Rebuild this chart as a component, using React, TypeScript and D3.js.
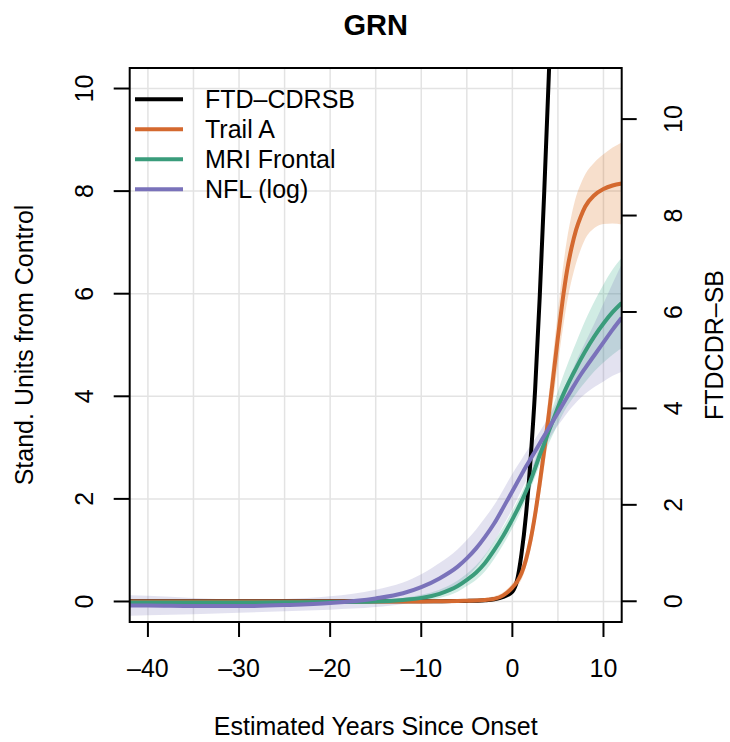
import React from "react";
import * as d3 from "d3";

const years = [-42, -40, -35, -30, -25, -20, -15, -12, -10, -8, -6, -5, -4, -3, -2, -1, 0, 0.5, 1, 1.5, 2, 2.5, 3, 3.5, 4, 4.5, 5, 5.5, 6, 6.5, 7, 7.5, 8, 9, 10, 11, 12];

// FTD-CDRSB (right axis units); null beyond the visible range
const ftdCdrsb: (number | null)[] = [0, 0, 0, 0, 0, 0, 0, 0, 0, 0, 0.005, 0.008, 0.012, 0.02, 0.04, 0.09, 0.2, 0.42, 0.98, 1.8, 2.95, 4.4, 6.3, 8.5, 10.9, 13.4, null, null, null, null, null, null, null, null, null, null, null];

const trailA = [0, 0, 0, 0, 0, 0, 0, 0, 0, 0.005, 0.01, 0.015, 0.02, 0.03, 0.05, 0.12, 0.27, 0.38, 0.55, 0.82, 1.2, 1.7, 2.3, 2.95, 3.65, 4.4, 5.15, 5.85, 6.45, 6.9, 7.25, 7.5, 7.7, 7.92, 8.04, 8.11, 8.15];
const trailABand = [0.03, 0.03, 0.03, 0.03, 0.03, 0.03, 0.03, 0.03, 0.03, 0.03, 0.03, 0.03, 0.03, 0.04, 0.05, 0.06, 0.08, 0.1, 0.12, 0.15, 0.18, 0.22, 0.27, 0.32, 0.38, 0.45, 0.52, 0.58, 0.62, 0.64, 0.65, 0.64, 0.63, 0.64, 0.68, 0.74, 0.8];

const mriFrontal = [-0.02, -0.02, -0.02, -0.02, -0.015, -0.01, 0.0, 0.03, 0.07, 0.15, 0.3, 0.42, 0.56, 0.75, 1.0, 1.28, 1.6, 1.77, 1.95, 2.15, 2.36, 2.6, 2.85, 3.08, 3.32, 3.55, 3.78, 4.0, 4.2, 4.38, 4.55, 4.72, 4.88, 5.17, 5.42, 5.64, 5.82];
const mriFrontalBand = [0.05, 0.05, 0.04, 0.03, 0.03, 0.03, 0.03, 0.04, 0.06, 0.08, 0.11, 0.12, 0.14, 0.16, 0.17, 0.17, 0.17, 0.17, 0.16, 0.16, 0.16, 0.17, 0.19, 0.21, 0.24, 0.28, 0.32, 0.36, 0.4, 0.45, 0.5, 0.55, 0.6, 0.68, 0.76, 0.83, 0.88];

const nflLog = [-0.08, -0.08, -0.09, -0.09, -0.07, -0.03, 0.06, 0.16, 0.28, 0.45, 0.68, 0.84, 1.03, 1.26, 1.52, 1.83, 2.15, 2.31, 2.47, 2.63, 2.78, 2.93, 3.08, 3.23, 3.38, 3.53, 3.68, 3.83, 3.98, 4.13, 4.28, 4.42, 4.55, 4.8, 5.05, 5.3, 5.53];
const nflLogBand = [0.2, 0.19, 0.16, 0.13, 0.12, 0.13, 0.17, 0.21, 0.25, 0.3, 0.34, 0.36, 0.37, 0.37, 0.36, 0.35, 0.34, 0.32, 0.3, 0.28, 0.26, 0.24, 0.23, 0.22, 0.22, 0.23, 0.25, 0.28, 0.31, 0.35, 0.4, 0.45, 0.5, 0.62, 0.76, 0.9, 1.05];

const xTicks = [-40, -30, -20, -10, 0, 10];
const xGrid = [-40, -35, -30, -25, -20, -15, -10, -5, 0, 5, 10];
const yTicks = [0, 2, 4, 6, 8, 10];
const yRightTicks = [0, 2, 4, 6, 8, 10];
const legendLabels = ["FTD\u2013CDRSB", "Trail A", "MRI Frontal", "NFL (log)"];
const colors = ["#000000", "#D4692F", "#3A9C7B", "#7A72BA"];

const W = 730, H = 742;
const L = 129.7, R = 621.7, T = 68, B = 622;
const FONT = "'Liberation Sans', Arial, Helvetica, sans-serif";
const FS = 25;

export default function App() {
  const x = d3.scaleLinear().domain([-42, 12]).range([L, R]);
  const y = d3.scaleLinear().domain([-0.4, 10.4]).range([B, T]);
  const yR = d3.scaleLinear().domain([-0.43, 11.06]).range([B, T]);

  const lineL = d3.line<number>().x((_, i) => x(years[i])).y((v) => y(v)).curve(d3.curveMonotoneX);
  const lineBlack = d3
    .line<number | null>()
    .defined((v) => v !== null)
    .x((_, i) => x(years[i]))
    .y((v) => yR(v as number))
    .curve(d3.curveMonotoneX);
  const band = (vals: number[], hw: number[]) =>
    d3
      .area<number>()
      .x((_, i) => x(years[i]))
      .y0((v, i) => y(v - hw[i]))
      .y1((v, i) => y(v + hw[i]))
      .curve(d3.curveMonotoneX)(vals) || "";

  const bands: [number[], number[], string][] = [
    [trailA, trailABand, "#D95F02"],
    [mriFrontal, mriFrontalBand, "#1B9E77"],
    [nflLog, nflLogBand, "#7570B3"],
  ];
  const lines: [number[], string][] = [
    [trailA, colors[1]],
    [mriFrontal, colors[2]],
    [nflLog, colors[3]],
  ];

  return (
    <svg width={W} height={H} style={{ position: "absolute", left: 0, top: 0, background: "#fff" }} fontFamily={FONT}>
      <defs>
        <clipPath id="plotclip">
          <rect x={L} y={T} width={R - L} height={B - T} />
        </clipPath>
      </defs>
      <rect x={0} y={0} width={W} height={H} fill="#fff" />
      {/* grid */}
      {xGrid.map((g) => (
        <line key={"gx" + g} x1={x(g)} x2={x(g)} y1={T} y2={B} stroke="#e3e3e3" strokeWidth={1.5} />
      ))}
      {yTicks.map((g) => (
        <line key={"gy" + g} x1={L} x2={R} y1={y(g)} y2={y(g)} stroke="#e3e3e3" strokeWidth={1.5} />
      ))}
      <g clipPath="url(#plotclip)">
        {bands.map(([v, hw, c], i) => (
          <path key={"b" + i} d={band(v, hw)} fill={c} fillOpacity={0.2} stroke="none" />
        ))}
        <path d={lineBlack(ftdCdrsb) || ""} fill="none" stroke={colors[0]} strokeWidth={4} />
        {lines.map(([v, c], i) => (
          <path key={"l" + i} d={lineL(v) || ""} fill="none" stroke={c} strokeWidth={4} />
        ))}
      </g>
      {/* box */}
      <rect x={L} y={T} width={R - L} height={B - T} fill="none" stroke="#000" strokeWidth={2} />
      {/* x axis */}
      {xTicks.map((t) => (
        <g key={"xt" + t}>
          <line x1={x(t)} x2={x(t)} y1={B} y2={B + 15} stroke="#000" strokeWidth={2} />
          <text x={x(t)} y={677} fontSize={FS} textAnchor="middle">
            {t < 0 ? "\u2013" + Math.abs(t) : String(t)}
          </text>
        </g>
      ))}
      {/* left y axis */}
      {yTicks.map((t) => (
        <g key={"yt" + t}>
          <line x1={L - 16} x2={L} y1={y(t)} y2={y(t)} stroke="#000" strokeWidth={2} />
          <text transform={`translate(93,${y(t)}) rotate(-90)`} fontSize={FS} textAnchor="middle">
            {t}
          </text>
        </g>
      ))}
      {/* right y axis */}
      {yRightTicks.map((t) => (
        <g key={"yr" + t}>
          <line x1={R} x2={R + 15} y1={yR(t)} y2={yR(t)} stroke="#000" strokeWidth={2} />
          <text transform={`translate(682,${yR(t)}) rotate(-90)`} fontSize={FS} textAnchor="middle">
            {t}
          </text>
        </g>
      ))}
      {/* labels */}
      <text x={(L + R) / 2} y={35} fontSize={29} fontWeight="bold" textAnchor="middle">
        GRN
      </text>
      <text x={(L + R) / 2} y={735} fontSize={FS} textAnchor="middle">
        Estimated Years Since Onset
      </text>
      <text transform={`translate(33,${(T + B) / 2}) rotate(-90)`} fontSize={FS} textAnchor="middle">
        Stand. Units from Control
      </text>
      <text transform={`translate(723,${(T + B) / 2}) rotate(-90)`} fontSize={FS} textAnchor="middle">
        {"FTDCDR\u2013SB"}
      </text>
      {/* legend */}
      {legendLabels.map((lab, i) => (
        <g key={"lg" + i}>
          <line x1={135} x2={183} y1={99.3 + 30 * i} y2={99.3 + 30 * i} stroke={colors[i]} strokeWidth={4} />
          <text x={205} y={99.3 + 30 * i} dy="0.36em" fontSize={FS}>
            {lab}
          </text>
        </g>
      ))}
    </svg>
  );
}
